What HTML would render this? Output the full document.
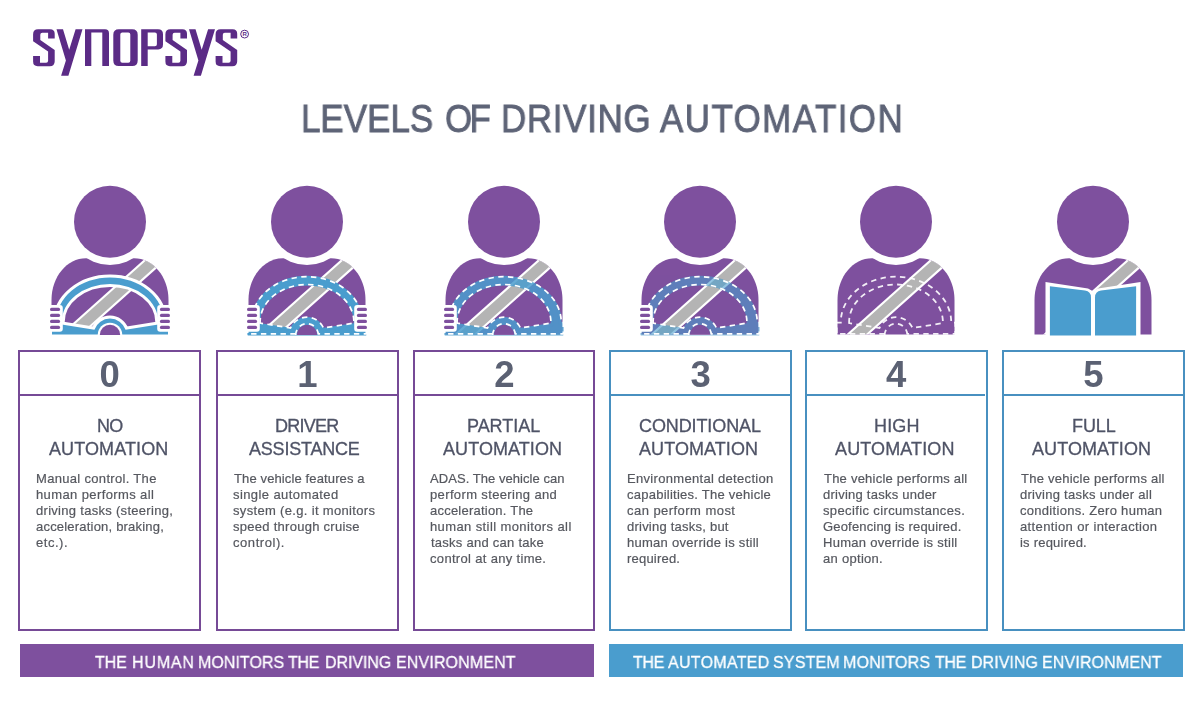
<!DOCTYPE html>
<html><head><meta charset="utf-8"><style>
*{margin:0;padding:0;box-sizing:border-box}
html,body{width:1200px;height:720px;overflow:hidden;background:#fff}
body{position:relative;font-family:"Liberation Sans",sans-serif}
.abs{position:absolute}
.box{position:absolute;top:350.2px;height:280.8px;border:2.9px solid}
.num{height:44.3px;border-bottom:2.9px solid;text-align:center;font-size:36.5px;font-weight:bold;line-height:46px;color:#5b6173;will-change:transform}
.ban{position:absolute;top:643.9px;height:33.6px}
.t{position:absolute;white-space:nowrap;will-change:transform}
</style></head><body>
<svg class="abs" style="left:0;top:0" width="1200" height="720" viewBox="0 0 1200 720">
<clipPath id="wc"><rect x="-80" y="250" width="160" height="85.4"/></clipPath>
<g fill="#5b2b86"><path d="M56.50,29.20 L63.00,29.20 L69.20,49.80 L75.60,29.20 L82.50,29.20 L68.40,75.80 L61.10,75.80 L65.90,60.50Z" fill-rule="evenodd"/><path d="M85,66.1 L85,29.2 L105,29.2 Q109,29.2 109,33.2 L109,66.1 L102.3,66.1 L102.3,32.5 L91.3,32.5 L91.3,66.1Z" fill-rule="evenodd"/><path d="M118.8,29.2 L132.2,29.2 Q137.7,29.2 137.7,34.7 L137.7,60.6 Q137.7,66.1 132.2,66.1 L118.8,66.1 Q113.3,66.1 113.3,60.6 L113.3,34.7 Q113.3,29.2 118.8,29.2Z M122.3,32.5 Q120.3,32.5 120.3,34.5 L120.3,60.8 Q120.3,62.8 122.3,62.8 L128.3,62.8 Q130.3,62.8 130.3,60.8 L130.3,34.5 Q130.3,32.5 128.3,32.5Z" fill-rule="evenodd"/><path d="M141.2,66.1 L141.2,29.2 L158,29.2 Q163,29.2 163,34.2 L163,44.6 Q163,49.4 158.2,49.4 L147.7,49.4 L147.7,66.1Z M147.7,32.5 L147.7,46.2 L154.9,46.2 Q156.9,46.2 156.9,44.2 L156.9,34.5 Q156.9,32.5 154.9,32.5Z" fill-rule="evenodd"/><path d="M189.00,29.20 L195.50,29.20 L201.70,49.80 L208.10,29.20 L215.00,29.20 L200.90,75.80 L193.60,75.80 L198.40,60.50Z" fill-rule="evenodd"/><path transform="translate(33.1,29.2)" d="M0,5 Q0,0 5,0 L17,0 Q21.6,0 21.6,4.6 L21.6,9.2 L15,9.2 L15,3.6 L9.2,3.6 Q7.2,3.6 7.2,5.6 L7.2,10.8 L21.6,20.8 L21.6,32 Q21.6,37 16.6,37 L4.6,37 Q0,37 0,32.4 L0,26.8 L6.9,26.8 L6.9,33.6 L13,33.6 Q15,33.6 15,31.6 L15,22.2 L0,12 Z"/><path transform="translate(165.4,29.2)" d="M0,5 Q0,0 5,0 L17,0 Q21.6,0 21.6,4.6 L21.6,9.2 L15,9.2 L15,3.6 L9.2,3.6 Q7.2,3.6 7.2,5.6 L7.2,10.8 L21.6,20.8 L21.6,32 Q21.6,37 16.6,37 L4.6,37 Q0,37 0,32.4 L0,26.8 L6.9,26.8 L6.9,33.6 L13,33.6 Q15,33.6 15,31.6 L15,22.2 L0,12 Z"/><path transform="translate(215.6,29.2)" d="M0,5 Q0,0 5,0 L17,0 Q21.6,0 21.6,4.6 L21.6,9.2 L15,9.2 L15,3.6 L9.2,3.6 Q7.2,3.6 7.2,5.6 L7.2,10.8 L21.6,20.8 L21.6,32 Q21.6,37 16.6,37 L4.6,37 Q0,37 0,32.4 L0,26.8 L6.9,26.8 L6.9,33.6 L13,33.6 Q15,33.6 15,31.6 L15,22.2 L0,12 Z"/></g><circle cx="244.6" cy="34.1" r="3.9" fill="none" stroke="#5b2b86" stroke-width="1"/><text x="244.6" y="36.3" font-size="6" font-weight="bold" text-anchor="middle" font-family="Liberation Sans" fill="#5b2b86">R</text>
<g transform="translate(110,0)"><clipPath id="bc0"><path d="M-58.5,334.5 L-58.5,300 C-58.5,276.8 -43,258.3 -24,258.3 L24,258.3 C43,258.3 58.5,276.8 58.5,300 L58.5,334.5Z"/></clipPath><path d="M-58.5,334.5 L-58.5,300 C-58.5,276.8 -43,258.3 -24,258.3 L24,258.3 C43,258.3 58.5,276.8 58.5,300 L58.5,334.5Z" fill="#7e509e"/><g clip-path="url(#bc0)"><path d="M50,255.3 L-50,344.7" stroke="#fff" stroke-width="15"/><path d="M50,255.3 L-50,344.7" stroke="#b4b4b4" stroke-width="10.8"/></g><circle cx="0" cy="221.8" r="43.2" fill="#fff"/><circle cx="0" cy="221.8" r="36" fill="#7e509e"/><path d="M-58,334.5 L-58,323.5 L-54,323.5 L-54,322 A54,44.6 0 0 1 0,277.4 A54,44.6 0 0 1 54,322 L54,323.5 L58,323.5 L58,334.5Z M-48.3,324.5 L-48.3,322 A48.3,38 0 0 1 48.3,322 L48.3,324.5 L15.6,329.7 A16.5,16.5 0 0 0 -15.6,329.7Z" fill="#4a9dce" fill-rule="evenodd" stroke="#fff" stroke-width="6" paint-order="stroke" stroke-linejoin="round"/><path d="M-12.3,335 A12.3,12.3 0 0 1 12.3,335Z" fill="#fff"/><path d="M-10.2,335 A10.2,10.2 0 0 1 10.2,335Z" fill="#7e509e"/><rect x="-62.5" y="304.9" width="15.3" height="26.8" rx="3" fill="#fff"/><rect x="-60.0" y="307.85" width="10.1" height="3.1" rx="1.55" fill="#7e509e"/><rect x="-60.0" y="313.85" width="10.1" height="3.1" rx="1.55" fill="#7e509e"/><rect x="-60.0" y="319.85" width="10.1" height="3.1" rx="1.55" fill="#7e509e"/><rect x="-60.0" y="325.85" width="10.1" height="3.1" rx="1.55" fill="#7e509e"/><rect x="47.2" y="304.9" width="15.3" height="26.8" rx="3" fill="#fff"/><rect x="49.9" y="307.85" width="10.1" height="3.1" rx="1.55" fill="#7e509e"/><rect x="49.9" y="313.85" width="10.1" height="3.1" rx="1.55" fill="#7e509e"/><rect x="49.9" y="319.85" width="10.1" height="3.1" rx="1.55" fill="#7e509e"/><rect x="49.9" y="325.85" width="10.1" height="3.1" rx="1.55" fill="#7e509e"/></g><g transform="translate(307,0)"><clipPath id="bc1"><path d="M-58.5,334.5 L-58.5,300 C-58.5,276.8 -43,258.3 -24,258.3 L24,258.3 C43,258.3 58.5,276.8 58.5,300 L58.5,334.5Z"/></clipPath><path d="M-58.5,334.5 L-58.5,300 C-58.5,276.8 -43,258.3 -24,258.3 L24,258.3 C43,258.3 58.5,276.8 58.5,300 L58.5,334.5Z" fill="#7e509e"/><g clip-path="url(#bc1)"><path d="M50,255.3 L-50,344.7" stroke="#fff" stroke-width="15"/><path d="M50,255.3 L-50,344.7" stroke="#b4b4b4" stroke-width="10.8"/></g><circle cx="0" cy="221.8" r="43.2" fill="#fff"/><circle cx="0" cy="221.8" r="36" fill="#7e509e"/><g opacity="1" clip-path="url(#wc)"><path d="M-58,334.5 L-58,323.5 L-54,323.5 L-54,322 A54,44.6 0 0 1 0,277.4 A54,44.6 0 0 1 54,322 L54,323.5 L58,323.5 L58,334.5Z M-48.3,324.5 L-48.3,322 A48.3,38 0 0 1 48.3,322 L48.3,324.5 L15.6,329.7 A16.5,16.5 0 0 0 -15.6,329.7Z" fill="#4a9dce" fill-rule="evenodd" stroke="#4a9dce" stroke-width="3.2" stroke-linejoin="round"/><path d="M-10.2,335 A10.2,10.2 0 0 1 10.2,335Z" fill="#7e509e"/></g><path d="M-11.3,333.9 L-59.3,333.9 L-59.3,322.6 L-55.2,322.6 L-55.2,322 A55.2,45.3 0 0 1 0,276.7 A55.2,45.3 0 0 1 55.2,322 L55.2,322.6 L59.3,322.6 L59.3,333.9 L11.3,333.9 M-46.9,323.1 L-46.9,322 A46.9,37.5 0 0 1 46.9,322 L46.9,323.1 L16.5,328 A18,18 0 0 0 -16.5,328Z" fill="none" stroke="#fff" stroke-width="1.7" stroke-dasharray="5.4 4.4"/><path d="M-11.3,335 A11.3,11.3 0 0 1 11.3,335" fill="none" stroke="#fff" stroke-width="1.7" stroke-dasharray="5.4 4.4"/><rect x="-62.5" y="304.9" width="15.3" height="26.8" rx="3" fill="#fff"/><rect x="-60.0" y="307.85" width="10.1" height="3.1" rx="1.55" fill="#7e509e"/><rect x="-60.0" y="313.85" width="10.1" height="3.1" rx="1.55" fill="#7e509e"/><rect x="-60.0" y="319.85" width="10.1" height="3.1" rx="1.55" fill="#7e509e"/><rect x="-60.0" y="325.85" width="10.1" height="3.1" rx="1.55" fill="#7e509e"/><rect x="47.2" y="304.9" width="15.3" height="26.8" rx="3" fill="#fff"/><rect x="49.9" y="307.85" width="10.1" height="3.1" rx="1.55" fill="#7e509e"/><rect x="49.9" y="313.85" width="10.1" height="3.1" rx="1.55" fill="#7e509e"/><rect x="49.9" y="319.85" width="10.1" height="3.1" rx="1.55" fill="#7e509e"/><rect x="49.9" y="325.85" width="10.1" height="3.1" rx="1.55" fill="#7e509e"/></g><g transform="translate(504,0)"><clipPath id="bc2"><path d="M-58.5,334.5 L-58.5,300 C-58.5,276.8 -43,258.3 -24,258.3 L24,258.3 C43,258.3 58.5,276.8 58.5,300 L58.5,334.5Z"/></clipPath><path d="M-58.5,334.5 L-58.5,300 C-58.5,276.8 -43,258.3 -24,258.3 L24,258.3 C43,258.3 58.5,276.8 58.5,300 L58.5,334.5Z" fill="#7e509e"/><g clip-path="url(#bc2)"><path d="M50,255.3 L-50,344.7" stroke="#fff" stroke-width="15"/><path d="M50,255.3 L-50,344.7" stroke="#b4b4b4" stroke-width="10.8"/></g><circle cx="0" cy="221.8" r="43.2" fill="#fff"/><circle cx="0" cy="221.8" r="36" fill="#7e509e"/><g opacity="0.85" clip-path="url(#wc)"><path d="M-58,334.5 L-58,323.5 L-54,323.5 L-54,322 A54,44.6 0 0 1 0,277.4 A56,44.6 0 0 1 56,322 L56,323.5 L58,323.5 L58,334.5Z M-48.3,324.5 L-48.3,322 A48.3,38 0 0 1 48.3,322 L48.3,324.5 L15.6,329.7 A16.5,16.5 0 0 0 -15.6,329.7Z" fill="#4a9dce" fill-rule="evenodd" stroke="#4a9dce" stroke-width="3.2" stroke-linejoin="round"/><path d="M-10.2,335 A10.2,10.2 0 0 1 10.2,335Z" fill="#7e509e"/></g><path d="M-11.3,333.9 L-59.3,333.9 L-59.3,322.6 L-55.2,322.6 L-55.2,322 A55.2,45.3 0 0 1 0,276.7 A57.2,45.3 0 0 1 57.2,322 L57.2,322.6 L59.3,322.6 L59.3,333.9 L11.3,333.9 M-46.9,323.1 L-46.9,322 A46.9,37.5 0 0 1 46.9,322 L46.9,323.1 L16.5,328 A18,18 0 0 0 -16.5,328Z" fill="none" stroke="#fff" stroke-width="1.7" stroke-dasharray="5.4 4.4"/><path d="M-11.3,335 A11.3,11.3 0 0 1 11.3,335" fill="none" stroke="#fff" stroke-width="1.7" stroke-dasharray="5.4 4.4"/><rect x="-62.5" y="304.9" width="15.3" height="26.8" rx="3" fill="#fff"/><rect x="-60.0" y="307.85" width="10.1" height="3.1" rx="1.55" fill="#7e509e"/><rect x="-60.0" y="313.85" width="10.1" height="3.1" rx="1.55" fill="#7e509e"/><rect x="-60.0" y="319.85" width="10.1" height="3.1" rx="1.55" fill="#7e509e"/><rect x="-60.0" y="325.85" width="10.1" height="3.1" rx="1.55" fill="#7e509e"/></g><g transform="translate(700,0)"><clipPath id="bc3"><path d="M-58.5,334.5 L-58.5,300 C-58.5,276.8 -43,258.3 -24,258.3 L24,258.3 C43,258.3 58.5,276.8 58.5,300 L58.5,334.5Z"/></clipPath><path d="M-58.5,334.5 L-58.5,300 C-58.5,276.8 -43,258.3 -24,258.3 L24,258.3 C43,258.3 58.5,276.8 58.5,300 L58.5,334.5Z" fill="#7e509e"/><g clip-path="url(#bc3)"><path d="M50,255.3 L-50,344.7" stroke="#fff" stroke-width="15"/><path d="M50,255.3 L-50,344.7" stroke="#b4b4b4" stroke-width="10.8"/></g><circle cx="0" cy="221.8" r="43.2" fill="#fff"/><circle cx="0" cy="221.8" r="36" fill="#7e509e"/><g opacity="0.6" clip-path="url(#wc)"><path d="M-58,334.5 L-58,323.5 L-54,323.5 L-54,322 A54,44.6 0 0 1 0,277.4 A56,44.6 0 0 1 56,322 L56,323.5 L58,323.5 L58,334.5Z M-48.3,324.5 L-48.3,322 A48.3,38 0 0 1 48.3,322 L48.3,324.5 L15.6,329.7 A16.5,16.5 0 0 0 -15.6,329.7Z" fill="#4a9dce" fill-rule="evenodd" stroke="#4a9dce" stroke-width="3.2" stroke-linejoin="round"/><path d="M-10.2,335 A10.2,10.2 0 0 1 10.2,335Z" fill="#7e509e"/></g><path d="M-11.3,333.9 L-59.3,333.9 L-59.3,322.6 L-55.2,322.6 L-55.2,322 A55.2,45.3 0 0 1 0,276.7 A57.2,45.3 0 0 1 57.2,322 L57.2,322.6 L59.3,322.6 L59.3,333.9 L11.3,333.9 M-46.9,323.1 L-46.9,322 A46.9,37.5 0 0 1 46.9,322 L46.9,323.1 L16.5,328 A18,18 0 0 0 -16.5,328Z" fill="none" stroke="#fff" stroke-width="1.7" stroke-dasharray="5.4 4.4"/><path d="M-11.3,335 A11.3,11.3 0 0 1 11.3,335" fill="none" stroke="#fff" stroke-width="1.7" stroke-dasharray="5.4 4.4"/><rect x="-62.5" y="304.9" width="15.3" height="26.8" rx="3" fill="#fff"/><rect x="-60.0" y="307.85" width="10.1" height="3.1" rx="1.55" fill="#7e509e"/><rect x="-60.0" y="313.85" width="10.1" height="3.1" rx="1.55" fill="#7e509e"/><rect x="-60.0" y="319.85" width="10.1" height="3.1" rx="1.55" fill="#7e509e"/><rect x="-60.0" y="325.85" width="10.1" height="3.1" rx="1.55" fill="#7e509e"/></g><g transform="translate(896,0)"><clipPath id="bc4"><path d="M-58.5,334.5 L-58.5,300 C-58.5,276.8 -43,258.3 -24,258.3 L24,258.3 C43,258.3 58.5,276.8 58.5,300 L58.5,334.5Z"/></clipPath><path d="M-58.5,334.5 L-58.5,300 C-58.5,276.8 -43,258.3 -24,258.3 L24,258.3 C43,258.3 58.5,276.8 58.5,300 L58.5,334.5Z" fill="#7e509e"/><g clip-path="url(#bc4)"><path d="M50,255.3 L-50,344.7" stroke="#fff" stroke-width="15"/><path d="M50,255.3 L-50,344.7" stroke="#b4b4b4" stroke-width="10.8"/></g><circle cx="0" cy="221.8" r="43.2" fill="#fff"/><circle cx="0" cy="221.8" r="36" fill="#7e509e"/><path d="M-11.3,333.9 L-59.3,333.9 L-59.3,322.6 L-55.2,322.6 L-55.2,322 A55.2,45.3 0 0 1 0,276.7 A55.2,45.3 0 0 1 55.2,322 L55.2,322.6 L59.3,322.6 L59.3,333.9 L11.3,333.9 M-46.9,323.1 L-46.9,322 A46.9,37.5 0 0 1 46.9,322 L46.9,323.1 L16.5,328 A18,18 0 0 0 -16.5,328Z" fill="none" stroke="#fff" stroke-opacity="0.9" stroke-width="1.8" stroke-dasharray="5.4 4.4"/><path d="M-11.3,335 A11.3,11.3 0 0 1 11.3,335" fill="none" stroke="#fff" stroke-opacity="0.9" stroke-width="1.8" stroke-dasharray="5.4 4.4"/></g><g transform="translate(1093,0)"><clipPath id="bc5"><path d="M-58.5,334.5 L-58.5,300 C-58.5,276.8 -43,258.3 -24,258.3 L24,258.3 C43,258.3 58.5,276.8 58.5,300 L58.5,334.5Z"/></clipPath><path d="M-58.5,334.5 L-58.5,300 C-58.5,276.8 -43,258.3 -24,258.3 L24,258.3 C43,258.3 58.5,276.8 58.5,300 L58.5,334.5Z" fill="#7e509e"/><g clip-path="url(#bc5)"><path d="M50,255.3 L-50,344.7" stroke="#fff" stroke-width="15"/><path d="M50,255.3 L-50,344.7" stroke="#b4b4b4" stroke-width="10.8"/></g><circle cx="0" cy="221.8" r="43.2" fill="#fff"/><circle cx="0" cy="221.8" r="36" fill="#7e509e"/><path d="M-47.5,282 L-5,288.5 L0,291.3 L5,288.5 L47.5,282 L47.5,336.3 L-47.5,336.3Z" fill="#fff"/><path d="M-43.1,286.3 L-8,290.6 Q-2,291.5 -2,297.5 L-2,335.6 L-43.1,335.6Z" fill="#4a9dce"/><path d="M43.1,286.3 L8,290.6 Q2,291.5 2,297.5 L2,335.6 L43.1,335.6Z" fill="#4a9dce"/></g>
</svg>
<div class="box" style="left:18.2px;width:183.1px;border-color:#764a96"><div class="num" style="border-bottom-color:#764a96">0</div></div><div class="box" style="left:215.6px;width:183.0px;border-color:#764a96"><div class="num" style="border-bottom-color:#764a96">1</div></div><div class="box" style="left:412.5px;width:182.8px;border-color:#764a96"><div class="num" style="border-bottom-color:#764a96">2</div></div><div class="box" style="left:608.5px;width:183.1px;border-color:#4890c0"><div class="num" style="border-bottom-color:#4890c0">3</div></div><div class="box" style="left:805.2px;width:182.4px;border-color:#4890c0"><div class="num" style="border-bottom-color:#4890c0">4</div></div><div class="box" style="left:1002.1px;width:182.7px;border-color:#4890c0"><div class="num" style="border-bottom-color:#4890c0">5</div></div>
<div class="ban" style="left:19.7px;width:574.3px;background:#7e509e"></div>
<div class="ban" style="left:609.2px;width:574.1px;background:#4a9dce"></div>
<div class="t" style="left:301.26px;top:99.68px;font-size:38.8px;line-height:38.8px;font-weight:normal;color:#5e6477;letter-spacing:0.047px;transform:scaleX(0.9);transform-origin:0 0;-webkit-text-stroke:0.9px #5e6477;">LEVELS</div>
<div class="t" style="left:444.62px;top:99.68px;font-size:38.8px;line-height:38.8px;font-weight:normal;color:#5e6477;letter-spacing:-3.031px;transform:scaleX(0.9);transform-origin:0 0;-webkit-text-stroke:0.9px #5e6477;">OF</div>
<div class="t" style="left:500.52px;top:99.68px;font-size:38.8px;line-height:38.8px;font-weight:normal;color:#5e6477;letter-spacing:0.764px;transform:scaleX(0.9);transform-origin:0 0;-webkit-text-stroke:0.9px #5e6477;">DRIVING</div>
<div class="t" style="left:660.02px;top:99.68px;font-size:38.8px;line-height:38.8px;font-weight:normal;color:#5e6477;letter-spacing:1.625px;transform:scaleX(0.9);transform-origin:0 0;-webkit-text-stroke:0.9px #5e6477;">AUTOMATION</div>
<div class="t" style="left:94.85px;top:653.72px;font-size:17.4px;line-height:17.4px;font-weight:normal;color:#fff;letter-spacing:-0.042px;transform:scaleX(0.92);transform-origin:0 0;-webkit-text-stroke:0.3px #fff;">THE</div>
<div class="t" style="left:131.56px;top:653.72px;font-size:17.4px;line-height:17.4px;font-weight:normal;color:#fff;letter-spacing:0.885px;transform:scaleX(0.92);transform-origin:0 0;-webkit-text-stroke:0.3px #fff;">HUMAN</div>
<div class="t" style="left:198.43px;top:653.72px;font-size:17.4px;line-height:17.4px;font-weight:normal;color:#fff;letter-spacing:0.044px;transform:scaleX(0.92);transform-origin:0 0;-webkit-text-stroke:0.3px #fff;">MONITORS</div>
<div class="t" style="left:288.35px;top:653.72px;font-size:17.4px;line-height:17.4px;font-weight:normal;color:#fff;letter-spacing:-0.313px;transform:scaleX(0.92);transform-origin:0 0;-webkit-text-stroke:0.3px #fff;">THE</div>
<div class="t" style="left:324.93px;top:653.72px;font-size:17.4px;line-height:17.4px;font-weight:normal;color:#fff;letter-spacing:-0.074px;transform:scaleX(0.92);transform-origin:0 0;-webkit-text-stroke:0.3px #fff;">DRIVING</div>
<div class="t" style="left:395.82px;top:653.72px;font-size:17.4px;line-height:17.4px;font-weight:normal;color:#fff;letter-spacing:0.145px;transform:scaleX(0.92);transform-origin:0 0;-webkit-text-stroke:0.3px #fff;">ENVIRONMENT</div>
<div class="t" style="left:632.50px;top:653.72px;font-size:17.4px;line-height:17.4px;font-weight:normal;color:#fff;letter-spacing:-0.380px;transform:scaleX(0.92);transform-origin:0 0;-webkit-text-stroke:0.3px #fff;">THE</div>
<div class="t" style="left:668.35px;top:653.72px;font-size:17.4px;line-height:17.4px;font-weight:normal;color:#fff;letter-spacing:0.311px;transform:scaleX(0.92);transform-origin:0 0;-webkit-text-stroke:0.3px #fff;">AUTOMATED</div>
<div class="t" style="left:773.44px;top:653.72px;font-size:17.4px;line-height:17.4px;font-weight:normal;color:#fff;letter-spacing:0.217px;transform:scaleX(0.92);transform-origin:0 0;-webkit-text-stroke:0.3px #fff;">SYSTEM</div>
<div class="t" style="left:843.43px;top:653.72px;font-size:17.4px;line-height:17.4px;font-weight:normal;color:#fff;letter-spacing:0.181px;transform:scaleX(0.92);transform-origin:0 0;-webkit-text-stroke:0.3px #fff;">MONITORS</div>
<div class="t" style="left:935.00px;top:653.72px;font-size:17.4px;line-height:17.4px;font-weight:normal;color:#fff;letter-spacing:-0.380px;transform:scaleX(0.92);transform-origin:0 0;-webkit-text-stroke:0.3px #fff;">THE</div>
<div class="t" style="left:970.82px;top:653.72px;font-size:17.4px;line-height:17.4px;font-weight:normal;color:#fff;letter-spacing:0.061px;transform:scaleX(0.92);transform-origin:0 0;-webkit-text-stroke:0.3px #fff;">DRIVING</div>
<div class="t" style="left:1041.58px;top:653.72px;font-size:17.4px;line-height:17.4px;font-weight:normal;color:#fff;letter-spacing:0.145px;transform:scaleX(0.92);transform-origin:0 0;-webkit-text-stroke:0.3px #fff;">ENVIRONMENT</div>
<div class="t" style="left:96.52px;top:417.33px;font-size:18px;line-height:18px;font-weight:normal;color:#4f5366;letter-spacing:-0.699px;-webkit-text-stroke:0.3px #4f5366;">NO</div>
<div class="t" style="left:48.52px;top:439.93px;font-size:18px;line-height:18px;font-weight:normal;color:#4f5366;letter-spacing:0.103px;-webkit-text-stroke:0.3px #4f5366;">AUTOMATION</div>
<div class="t" style="left:36.13px;top:471.90px;font-size:13px;line-height:13px;font-weight:normal;color:#56585f;letter-spacing:0.319px;-webkit-text-stroke:0.2px #56585f;">Manual control. The</div>
<div class="t" style="left:36.33px;top:488.00px;font-size:13px;line-height:13px;font-weight:normal;color:#56585f;letter-spacing:0.389px;-webkit-text-stroke:0.2px #56585f;">human performs all</div>
<div class="t" style="left:36.33px;top:504.11px;font-size:13px;line-height:13px;font-weight:normal;color:#56585f;letter-spacing:0.294px;-webkit-text-stroke:0.2px #56585f;">driving tasks (steering,</div>
<div class="t" style="left:36.33px;top:520.20px;font-size:13px;line-height:13px;font-weight:normal;color:#56585f;letter-spacing:0.202px;-webkit-text-stroke:0.2px #56585f;">acceleration, braking,</div>
<div class="t" style="left:36.33px;top:536.30px;font-size:13px;line-height:13px;font-weight:normal;color:#56585f;letter-spacing:0.541px;-webkit-text-stroke:0.2px #56585f;">etc.).</div>
<div class="t" style="left:275.00px;top:417.33px;font-size:18px;line-height:18px;font-weight:normal;color:#4f5366;letter-spacing:-0.742px;-webkit-text-stroke:0.3px #4f5366;">DRIVER</div>
<div class="t" style="left:249.35px;top:439.93px;font-size:18px;line-height:18px;font-weight:normal;color:#4f5366;letter-spacing:-0.210px;-webkit-text-stroke:0.3px #4f5366;">ASSISTANCE</div>
<div class="t" style="left:234.26px;top:471.90px;font-size:13px;line-height:13px;font-weight:normal;color:#56585f;letter-spacing:0.126px;-webkit-text-stroke:0.2px #56585f;">The vehicle features a</div>
<div class="t" style="left:233.46px;top:488.00px;font-size:13px;line-height:13px;font-weight:normal;color:#56585f;letter-spacing:0.414px;-webkit-text-stroke:0.2px #56585f;">single automated</div>
<div class="t" style="left:233.46px;top:504.11px;font-size:13px;line-height:13px;font-weight:normal;color:#56585f;letter-spacing:0.331px;-webkit-text-stroke:0.2px #56585f;">system (e.g. it monitors</div>
<div class="t" style="left:233.46px;top:520.20px;font-size:13px;line-height:13px;font-weight:normal;color:#56585f;letter-spacing:0.271px;-webkit-text-stroke:0.2px #56585f;">speed through cruise</div>
<div class="t" style="left:233.46px;top:536.30px;font-size:13px;line-height:13px;font-weight:normal;color:#56585f;letter-spacing:0.561px;-webkit-text-stroke:0.2px #56585f;">control).</div>
<div class="t" style="left:466.50px;top:417.33px;font-size:18px;line-height:18px;font-weight:normal;color:#4f5366;letter-spacing:-0.034px;-webkit-text-stroke:0.3px #4f5366;">PARTIAL</div>
<div class="t" style="left:442.50px;top:439.93px;font-size:18px;line-height:18px;font-weight:normal;color:#4f5366;letter-spacing:0.074px;-webkit-text-stroke:0.3px #4f5366;">AUTOMATION</div>
<div class="t" style="left:430.46px;top:471.90px;font-size:13px;line-height:13px;font-weight:normal;color:#56585f;letter-spacing:0.058px;-webkit-text-stroke:0.2px #56585f;">ADAS. The vehicle can</div>
<div class="t" style="left:430.46px;top:488.00px;font-size:13px;line-height:13px;font-weight:normal;color:#56585f;letter-spacing:0.363px;-webkit-text-stroke:0.2px #56585f;">perform steering and</div>
<div class="t" style="left:430.46px;top:504.11px;font-size:13px;line-height:13px;font-weight:normal;color:#56585f;letter-spacing:0.224px;-webkit-text-stroke:0.2px #56585f;">acceleration. The</div>
<div class="t" style="left:430.46px;top:520.20px;font-size:13px;line-height:13px;font-weight:normal;color:#56585f;letter-spacing:0.394px;-webkit-text-stroke:0.2px #56585f;">human still monitors all</div>
<div class="t" style="left:431.26px;top:536.30px;font-size:13px;line-height:13px;font-weight:normal;color:#56585f;letter-spacing:0.257px;-webkit-text-stroke:0.2px #56585f;">tasks and can take</div>
<div class="t" style="left:430.46px;top:552.40px;font-size:13px;line-height:13px;font-weight:normal;color:#56585f;letter-spacing:0.323px;-webkit-text-stroke:0.2px #56585f;">control at any time.</div>
<div class="t" style="left:638.70px;top:417.33px;font-size:18px;line-height:18px;font-weight:normal;color:#4f5366;letter-spacing:-0.105px;-webkit-text-stroke:0.3px #4f5366;">CONDITIONAL</div>
<div class="t" style="left:638.50px;top:439.93px;font-size:18px;line-height:18px;font-weight:normal;color:#4f5366;letter-spacing:0.074px;-webkit-text-stroke:0.3px #4f5366;">AUTOMATION</div>
<div class="t" style="left:626.50px;top:471.90px;font-size:13px;line-height:13px;font-weight:normal;color:#56585f;letter-spacing:0.309px;-webkit-text-stroke:0.2px #56585f;">Environmental detection</div>
<div class="t" style="left:626.70px;top:488.00px;font-size:13px;line-height:13px;font-weight:normal;color:#56585f;letter-spacing:0.253px;-webkit-text-stroke:0.2px #56585f;">capabilities. The vehicle</div>
<div class="t" style="left:626.70px;top:504.11px;font-size:13px;line-height:13px;font-weight:normal;color:#56585f;letter-spacing:0.454px;-webkit-text-stroke:0.2px #56585f;">can perform most</div>
<div class="t" style="left:626.70px;top:520.20px;font-size:13px;line-height:13px;font-weight:normal;color:#56585f;letter-spacing:0.230px;-webkit-text-stroke:0.2px #56585f;">driving tasks, but</div>
<div class="t" style="left:626.70px;top:536.30px;font-size:13px;line-height:13px;font-weight:normal;color:#56585f;letter-spacing:0.274px;-webkit-text-stroke:0.2px #56585f;">human override is still</div>
<div class="t" style="left:626.70px;top:552.40px;font-size:13px;line-height:13px;font-weight:normal;color:#56585f;letter-spacing:0.205px;-webkit-text-stroke:0.2px #56585f;">required.</div>
<div class="t" style="left:873.50px;top:417.33px;font-size:18px;line-height:18px;font-weight:normal;color:#4f5366;letter-spacing:0.166px;-webkit-text-stroke:0.3px #4f5366;">HIGH</div>
<div class="t" style="left:834.50px;top:439.93px;font-size:18px;line-height:18px;font-weight:normal;color:#4f5366;letter-spacing:0.129px;-webkit-text-stroke:0.3px #4f5366;">AUTOMATION</div>
<div class="t" style="left:823.74px;top:471.90px;font-size:13px;line-height:13px;font-weight:normal;color:#56585f;letter-spacing:0.227px;-webkit-text-stroke:0.2px #56585f;">The vehicle performs all</div>
<div class="t" style="left:822.94px;top:488.00px;font-size:13px;line-height:13px;font-weight:normal;color:#56585f;letter-spacing:0.240px;-webkit-text-stroke:0.2px #56585f;">driving tasks under</div>
<div class="t" style="left:822.94px;top:504.11px;font-size:13px;line-height:13px;font-weight:normal;color:#56585f;letter-spacing:0.371px;-webkit-text-stroke:0.2px #56585f;">specific circumstances.</div>
<div class="t" style="left:822.94px;top:520.20px;font-size:13px;line-height:13px;font-weight:normal;color:#56585f;letter-spacing:0.174px;-webkit-text-stroke:0.2px #56585f;">Geofencing is required.</div>
<div class="t" style="left:822.74px;top:536.30px;font-size:13px;line-height:13px;font-weight:normal;color:#56585f;letter-spacing:0.288px;-webkit-text-stroke:0.2px #56585f;">Human override is still</div>
<div class="t" style="left:822.94px;top:552.40px;font-size:13px;line-height:13px;font-weight:normal;color:#56585f;letter-spacing:0.292px;-webkit-text-stroke:0.2px #56585f;">an option.</div>
<div class="t" style="left:1071.50px;top:417.33px;font-size:18px;line-height:18px;font-weight:normal;color:#4f5366;letter-spacing:-0.068px;-webkit-text-stroke:0.3px #4f5366;">FULL</div>
<div class="t" style="left:1032.00px;top:439.93px;font-size:18px;line-height:18px;font-weight:normal;color:#4f5366;letter-spacing:0.074px;-webkit-text-stroke:0.3px #4f5366;">AUTOMATION</div>
<div class="t" style="left:1020.50px;top:471.90px;font-size:13px;line-height:13px;font-weight:normal;color:#56585f;letter-spacing:0.238px;-webkit-text-stroke:0.2px #56585f;">The vehicle performs all</div>
<div class="t" style="left:1019.70px;top:488.00px;font-size:13px;line-height:13px;font-weight:normal;color:#56585f;letter-spacing:0.275px;-webkit-text-stroke:0.2px #56585f;">driving tasks under all</div>
<div class="t" style="left:1019.70px;top:504.11px;font-size:13px;line-height:13px;font-weight:normal;color:#56585f;letter-spacing:0.295px;-webkit-text-stroke:0.2px #56585f;">conditions. Zero human</div>
<div class="t" style="left:1019.70px;top:520.20px;font-size:13px;line-height:13px;font-weight:normal;color:#56585f;letter-spacing:0.367px;-webkit-text-stroke:0.2px #56585f;">attention or interaction</div>
<div class="t" style="left:1019.70px;top:536.30px;font-size:13px;line-height:13px;font-weight:normal;color:#56585f;letter-spacing:0.217px;-webkit-text-stroke:0.2px #56585f;">is required.</div>
</body></html>
